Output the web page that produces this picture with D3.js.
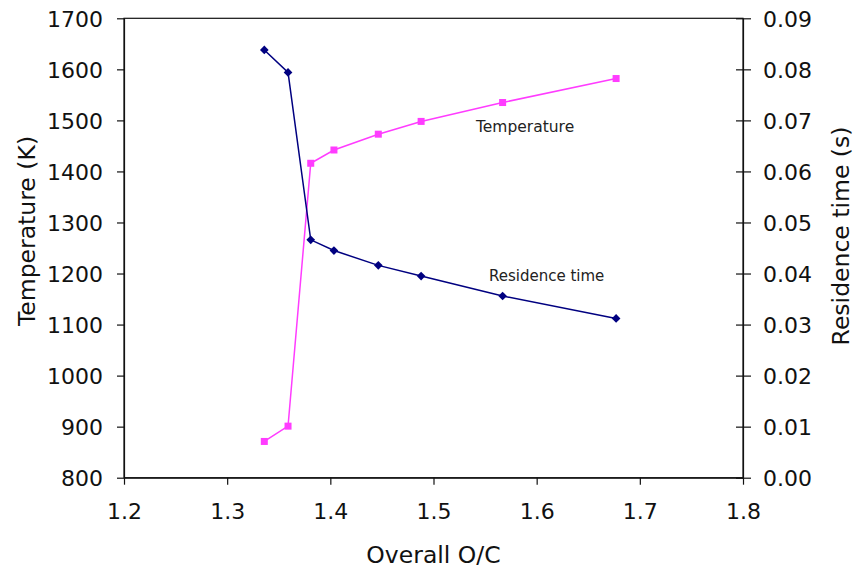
<!DOCTYPE html>
<html><head><meta charset="utf-8">
<script src="https://cdn.jsdelivr.net/npm/d3@7"></script>
<style>body{margin:0;background:#fff}svg{display:block}text{font-family:"DejaVu Sans",Verdana,sans-serif}</style>
</head><body>
<svg id="c" width="855" height="571"></svg>
<script>
const oc = [1.336, 1.359, 1.381, 1.4035, 1.4465, 1.488, 1.567, 1.677];
const temperature = [871, 901, 1416, 1442, 1473, 1498, 1535, 1582];
const residenceTime = [0.0838, 0.0794, 0.0466, 0.0445, 0.0416, 0.0395, 0.0356, 0.0312];
const xTicks = [1.2, 1.3, 1.4, 1.5, 1.6, 1.7, 1.8];
const leftTicks = [800, 900, 1000, 1100, 1200, 1300, 1400, 1500, 1600, 1700];
const rightTicks = [0, 0.01, 0.02, 0.03, 0.04, 0.05, 0.06, 0.07, 0.08, 0.09];

const L = 124, R = 743, T = 18.3, B = 477.7;
const svg = d3.select("#c");
const x = d3.scaleLinear().domain([1.2, 1.8]).range([L, R]);
const yL = d3.scaleLinear().domain([800, 1700]).range([B, T]);
const yR = d3.scaleLinear().domain([0, 0.09]).range([B, T]);

const axisColor = "#111";
// plot border
svg.append("rect").attr("x", L).attr("y", T).attr("width", R - L).attr("height", B - T)
  .attr("fill", "none").attr("stroke", axisColor).attr("stroke-width", 1.2);

const gL = svg.append("g").attr("transform", `translate(${L},0)`)
  .call(d3.axisLeft(yL).tickValues(leftTicks).tickFormat(d3.format("d")).tickSizeOuter(0).tickSizeInner(7).tickPadding(14));
const gR = svg.append("g").attr("transform", `translate(${R},0)`)
  .call(d3.axisRight(yR).tickValues(rightTicks).tickFormat(d3.format(".2f")).tickSizeOuter(0).tickSizeInner(8).tickPadding(12));
gR.selectAll(".tick line").attr("x1", -7);
const gX = svg.append("g").attr("transform", `translate(0,${B})`)
  .call(d3.axisBottom(x).tickValues(xTicks).tickFormat(d3.format(".1f")).tickSizeOuter(0).tickSizeInner(7).tickPadding(19));

[gL, gR, gX].forEach(g => {
  g.select(".domain").attr("stroke", axisColor).attr("stroke-width", 1.2);
  g.selectAll(".tick line").attr("stroke", axisColor).attr("stroke-width", 1.2);
  g.selectAll(".tick text").attr("fill", "#111").style("font-size", "22px")
    .style("font-family", '"DejaVu Sans",Verdana,sans-serif');
});
gL.selectAll(".tick text").attr("dy", "0.36em");
gR.selectAll(".tick text").attr("dy", "0.36em");
gX.selectAll(".tick text").attr("dy", "0.71em");

// lines
const lineT = d3.line().x((d, i) => x(oc[i])).y(d => yL(d));
const lineR = d3.line().x((d, i) => x(oc[i])).y(d => yR(d));
const pink = "#ff3cff", navy = "#000080";

svg.append("path").datum(temperature).attr("d", lineT).attr("fill", "none")
  .attr("stroke", pink).attr("stroke-width", 1.5);
svg.append("path").datum(residenceTime).attr("d", lineR).attr("fill", "none")
  .attr("stroke", navy).attr("stroke-width", 1.5);

svg.selectAll(".sq").data(temperature).enter().append("rect")
  .attr("x", (d, i) => x(oc[i]) - 3.5).attr("y", d => yL(d) - 3.5)
  .attr("width", 7).attr("height", 7).attr("fill", pink);

const dia = d3.symbol().type(d3.symbolDiamond2).size(48);
svg.selectAll(".dm").data(residenceTime).enter().append("path")
  .attr("d", dia).attr("transform", (d, i) => `translate(${x(oc[i])},${yR(d)})`)
  .attr("fill", navy);

// annotations
svg.append("text").attr("x", 476).attr("y", 132).text("Temperature")
  .style("font-size", "15.5px").attr("fill", "#222");
svg.append("text").attr("x", 489).attr("y", 281).text("Residence time")
  .style("font-size", "15px").attr("fill", "#222");

// axis titles
svg.append("text").attr("x", (L + R) / 2).attr("y", 563).attr("text-anchor", "middle")
  .text("Overall O/C").style("font-size", "23.5px").attr("fill", "#111");
svg.append("text").attr("transform", "translate(35,231) rotate(-90)").attr("text-anchor", "middle")
  .text("Temperature (K)").style("font-size", "23.5px").attr("fill", "#111");
svg.append("text").attr("transform", "translate(849,236) rotate(-90)").attr("text-anchor", "middle")
  .text("Residence time (s)").style("font-size", "23.5px").attr("fill", "#111");
</script>
</body></html>
